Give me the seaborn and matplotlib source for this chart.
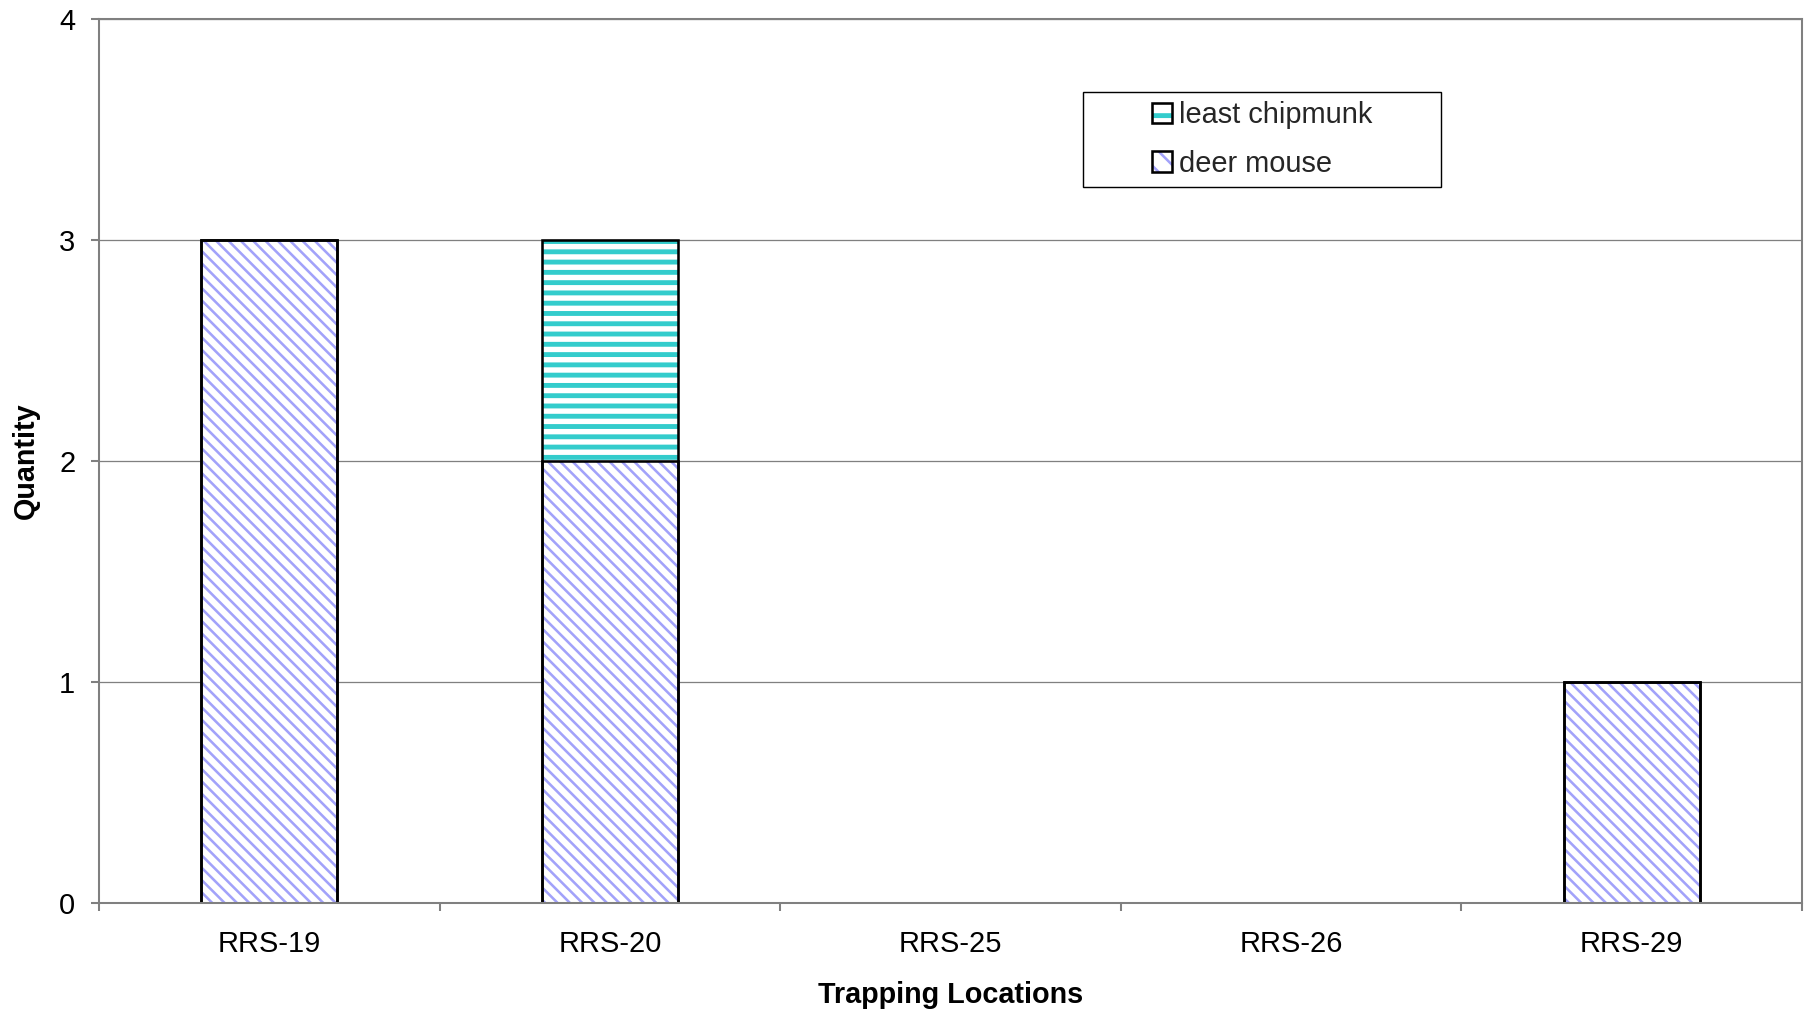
import numpy as np
import pandas as pd
import matplotlib
matplotlib.use("Agg")
import matplotlib.pyplot as plt
from matplotlib.patches import Patch, Rectangle
from matplotlib.colors import to_rgba
import seaborn as sns

# Small-mammal captures per trapping location
locations = ["RRS-19", "RRS-20", "RRS-25", "RRS-26", "RRS-29"]
deer_mouse = [3, 2, 0, 0, 1]
least_chipmunk = [0, 1, 0, 0, 0]
y_ticks = [0, 1, 2, 3, 4]

df = pd.DataFrame({
    "location": locations,
    "deer mouse": deer_mouse,
    "least chipmunk": least_chipmunk,
})
df["total"] = df["deer mouse"] + df["least chipmunk"]

DEER_COLOR = "#a2a2fa"
CHIP_COLOR = "#33cccc"
DEER_HATCH = "\\" * 5
CHIP_HATCH = "-" * 3
FONT = "Liberation Sans"

sns.set_theme(style="white")
plt.rcParams["font.family"] = [FONT, "DejaVu Sans"]

DPI = 185
fig = plt.figure(figsize=(1809 / DPI, 1011 / DPI), dpi=DPI)
ax = fig.add_axes([99 / 1809, 1 - 903 / 1011, (1802 - 99) / 1809, (903 - 19) / 1011])


def set_hatch_lw(container, lw):
    for p in container:
        if hasattr(p, "set_hatch_linewidth"):
            p.set_hatch_linewidth(lw)


# stacked bars: full stack with chipmunk hatch, deer mouse drawn over its lower part
with plt.rc_context({"hatch.linewidth": 1.9}):
    sns.barplot(data=df, x="location", y="total", order=locations, ax=ax,
                color="white", saturation=1, width=0.4, errorbar=None,
                edgecolor=CHIP_COLOR, linewidth=0, hatch=CHIP_HATCH)
set_hatch_lw(ax.containers[-1], 1.9)

with plt.rc_context({"hatch.linewidth": 1.0}):
    sns.barplot(data=df, x="location", y="deer mouse", order=locations, ax=ax,
                color="white", saturation=1, width=0.4, errorbar=None,
                edgecolor=DEER_COLOR, linewidth=0, hatch=DEER_HATCH)
set_hatch_lw(ax.containers[-1], 1.0)

# black outlines for each segment
for col in ["total", "deer mouse"]:
    sns.barplot(data=df, x="location", y=col, order=locations, ax=ax,
                color="black", fill=False, width=0.4, errorbar=None,
                linewidth=1.0)
    for p in ax.containers[-1]:
        if p.get_height() == 0:
            p.set_linewidth(0)

ax.set_xlim(-0.5, len(locations) - 0.5)
ax.set_ylim(0, 4)
ax.set_yticks(y_ticks)
ax.set_yticklabels([str(v) for v in y_ticks])
ax.set_xticks(range(len(locations)))
ax.set_xticklabels(locations)
ax.set_xticks(np.arange(-0.5, len(locations)), minor=True)

ax.yaxis.grid(True, color="#808080", linewidth=0.5)
ax.xaxis.grid(False)
ax.set_axisbelow(True)

for side in ["left", "bottom", "top", "right"]:
    ax.spines[side].set_color("#808080")
    ax.spines[side].set_linewidth(0.8)
    ax.spines[side].set_visible(True)

ax.tick_params(axis="y", which="major", direction="out", length=3.2, width=0.8,
               color="#808080", labelsize=11.3, pad=6, left=True)
ax.tick_params(axis="x", which="major", length=0, labelsize=11.3, pad=10.5)
ax.tick_params(axis="x", which="minor", direction="out", length=3.2, width=0.8,
               color="#808080", bottom=True)
for lab in ax.get_xticklabels() + ax.get_yticklabels():
    lab.set_color("black")

ax.set_xlabel("Trapping Locations", fontsize=11.2, fontweight="bold",
              color="black", labelpad=9)
ax.set_ylabel("Quantity", fontsize=11.2, fontweight="bold",
              color="black", labelpad=7.5)

# legend box
x0 = (1083 - 99) / 1703
x1 = (1441 - 99) / 1703
y0 = (903 - 187) / 884
y1 = (903 - 92) / 884
ax.add_patch(Rectangle((x0, y0), x1 - x0, y1 - y0, transform=ax.transAxes,
                       facecolor="white", edgecolor="black", linewidth=0.55,
                       zorder=4.5))

h_chip = Patch(facecolor="white", edgecolor="black", hatch="--", linewidth=1.0)
h_deer = Patch(facecolor="white", edgecolor="black", hatch="\\\\\\", linewidth=1.0)

leg = ax.legend([h_chip, h_deer], ["least chipmunk", "deer mouse"],
                loc="center", bbox_to_anchor=((x0 + x1) / 2, (y0 + y1) / 2),
                frameon=False, fontsize=11.3, handlelength=0.7,
                handleheight=0.7, handletextpad=0.25, labelspacing=0.7,
                borderpad=0)
leg.set_zorder(5)
for p in leg.get_patches():
    is_chip = p.get_hatch() == "--"
    p._hatch_color = to_rgba(CHIP_COLOR if is_chip else DEER_COLOR)
    if hasattr(p, "set_hatch_linewidth"):
        p.set_hatch_linewidth(1.9 if is_chip else 1.0)

fig.savefig("out.png", dpi=DPI)
